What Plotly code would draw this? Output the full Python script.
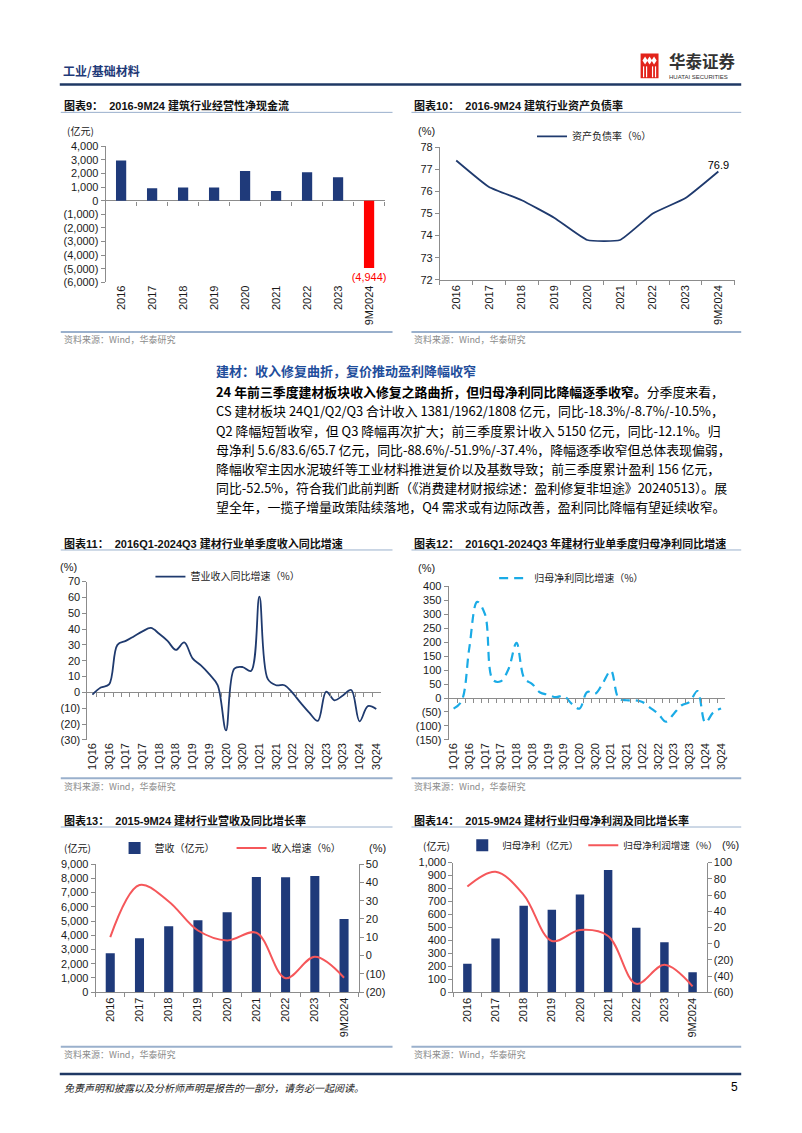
import plotly.graph_objects as go

W, H = 802, 1133
FONT = "Liberation Sans, Arial, Noto Sans CJK SC, sans-serif"
CJK = "Noto Sans CJK SC, Liberation Sans, sans-serif"
NAVY = "#1F3A7A"
LINE_NAVY = "#1F3A6E"
RED_BAR = "#FF0000"
RED_LINE = "#F5575A"
DASH_BLUE = "#1AABE6"
AXIS = "#8C8C8C"
RULE = "#9AB0CC"

# ---------------- data ----------------
years = ["2016", "2017", "2018", "2019", "2020", "2021", "2022", "2023", "9M2024"]

# Chart 9: operating net cash flow (亿元)
c9_values = [2950, 920, 970, 970, 2180, 705, 2085, 1720, -4944]
c9_ytickvals = [4000, 3000, 2000, 1000, 0, -1000, -2000, -3000, -4000, -5000, -6000]
c9_yticktext = ["4,000", "3,000", "2,000", "1,000", "0", "(1,000)", "(2,000)", "(3,000)",
                "(4,000)", "(5,000)", "(6,000)"]

# Chart 10: asset-liability ratio (%)
c10_values = [77.4, 76.2, 75.6, 74.8, 73.8, 73.8, 75.0, 75.7, 76.9]

# Chart 11 / 12: quarterly YoY
quarters = ["1Q16", "2Q16", "3Q16", "4Q16", "1Q17", "2Q17", "3Q17", "4Q17",
            "1Q18", "2Q18", "3Q18", "4Q18", "1Q19", "2Q19", "3Q19", "4Q19",
            "1Q20", "2Q20", "3Q20", "4Q20", "1Q21", "2Q21", "3Q21", "4Q21",
            "1Q22", "2Q22", "3Q22", "4Q22", "1Q23", "2Q23", "3Q23", "4Q23",
            "1Q24", "2Q24", "3Q24"]
c11_values = [-1.5, 3.0, 5.0, 30.0, 32.5, 35.5, 38.5, 40.7,
              37.0, 32.5, 26.8, 31.5, 21.5, 17.0, 11.5, 4.5,
              -24.0, 15.0, 16.0, 13.5, 60.5, 8.5, 4.5, 4.5,
              -0.5, -7.0, -13.0, -18.0, 0.5, -5.0, -2.0, 1.5,
              -18.3, -8.7, -10.5]
c11_ytickvals = [70, 60, 50, 40, 30, 20, 10, 0, -10, -20, -30]
c11_yticktext = ["70", "60", "50", "40", "30", "20", "10", "0", "(10)", "(20)", "(30)"]

c12_values = [-38, -12, 180, 345, 300, 65, 60, 105,
              198, 70, 50, 20, 12, 3, 8, -20,
              -38, 22, 15, 55, 98, -2, -8, -8,
              -14, -35, -56, -85, -56, -26, -14, 25,
              -88.6, -51.9, -37.4]
c12_ytickvals = [400, 350, 300, 250, 200, 150, 100, 50, 0, -50, -100, -150]
c12_yticktext = ["400", "350", "300", "250", "200", "150", "100", "50", "0", "(50)", "(100)", "(150)"]

# Chart 13: revenue (亿元) and growth (%)
c13_revenue = [2740, 3780, 4640, 5060, 5610, 8100, 8070, 8170, 5150]
c13_growth = [10.1, 38.6, 29.6, 13.7, 8.3, 12.5, -12.4, -0.7, -12.1]
c13_rtickvals = [50, 40, 30, 20, 10, 0, -10, -20]
c13_rticktext = ["50", "40", "30", "20", "10", "0", "(10)", "(20)"]

# Chart 14: net profit (亿元) and growth (%)
c14_profit = [221, 416, 667, 637, 754, 942, 497, 386, 156]
c14_growth = [70.4, 88.6, 60.2, 3.4, 16.8, 9.5, -49.4, -25.9, -52.5]
c14_rtickvals = [100, 80, 60, 40, 20, 0, -20, -40, -60]
c14_rticktext = ["100", "80", "60", "40", "20", "0", "(20)", "(40)", "(60)"]

paragraph = [
    "<b>24 年前三季度建材板块收入修复之路曲折，但归母净利同比降幅逐季收窄。</b>分季度来看，",
    "CS 建材板块 24Q1/Q2/Q3 合计收入 1381/1962/1808 亿元，同比-18.3%/-8.7%/-10.5%，",
    "Q2 降幅短暂收窄，但 Q3 降幅再次扩大；前三季度累计收入 5150 亿元，同比-12.1%。归",
    "母净利 5.6/83.6/65.7 亿元，同比-88.6%/-51.9%/-37.4%，降幅逐季收窄但总体表现偏弱，",
    "降幅收窄主因水泥玻纤等工业材料推进复价以及基数导致；前三季度累计盈利 156 亿元，",
    "同比-52.5%，符合我们此前判断（《消费建材财报综述：盈利修复非坦途》20240513）。展",
    "望全年，一揽子增量政策陆续落地，Q4 需求或有边际改善，盈利同比降幅有望延续收窄。",
]


def X(p):
    return p / W


def Y(p):
    return 1 - p / H


fig = go.Figure()

# ---------------- traces ----------------
# Chart 9
fig.add_trace(go.Bar(
    x=years, y=c9_values, xaxis="x", yaxis="y", width=0.33,
    marker=dict(color=[RED_BAR if v < 0 else NAVY for v in c9_values], line=dict(width=0)),
    text=[f"({abs(v):,})" if v < 0 else "" for v in c9_values],
    textposition="outside", cliponaxis=False, constraintext="none",
    textfont=dict(color=RED_BAR, size=11, family=FONT), showlegend=False))
fig.add_trace(go.Scatter(x=years, y=c9_values, xaxis="x7", yaxis="y", mode="markers",
                         marker=dict(opacity=0), showlegend=False, hoverinfo="skip"))

# Chart 10
fig.add_trace(go.Scatter(
    x=years, y=c10_values, xaxis="x2", yaxis="y2", mode="lines+text",
    line=dict(color=LINE_NAVY, width=1.8, shape="spline", smoothing=0.4),
    text=[""] * (len(c10_values) - 1) + [f"{c10_values[-1]}"],
    textposition="top center", textfont=dict(size=11, family=FONT, color="#000"),
    cliponaxis=False, name="资产负债率（%）", legend="legend"))

# Chart 11
idx = list(range(len(quarters)))
fig.add_trace(go.Scatter(
    x=idx, y=c11_values, xaxis="x3", yaxis="y3", mode="lines",
    line=dict(color=LINE_NAVY, width=1.8, shape="spline", smoothing=1.0),
    name="营业收入同比增速（%）", legend="legend2"))
fig.add_trace(go.Scatter(x=idx, y=c11_values, xaxis="x8", yaxis="y3", mode="markers",
                         marker=dict(opacity=0), showlegend=False, hoverinfo="skip"))

# Chart 12
fig.add_trace(go.Scatter(
    x=idx, y=c12_values, xaxis="x4", yaxis="y4", mode="lines",
    line=dict(color=DASH_BLUE, width=2.2, dash="9px,6px", shape="spline", smoothing=1.0),
    name="归母净利同比增速（%）", legend="legend3"))
fig.add_trace(go.Scatter(x=idx, y=c12_values, xaxis="x9", yaxis="y4", mode="markers",
                         marker=dict(opacity=0), showlegend=False, hoverinfo="skip"))

# Chart 13
fig.add_trace(go.Bar(x=years, y=c13_revenue, xaxis="x5", yaxis="y5", width=0.31,
                     marker=dict(color=NAVY, line=dict(width=0)),
                     name="营收（亿元）", legend="legend4"))
fig.add_trace(go.Scatter(x=years, y=c13_growth, xaxis="x5", yaxis="y6", mode="lines",
                         line=dict(color=RED_LINE, width=2, shape="spline", smoothing=1.0),
                         name="收入增速（%）", legend="legend4"))

# Chart 14
fig.add_trace(go.Bar(x=years, y=c14_profit, xaxis="x6", yaxis="y7", width=0.3,
                     marker=dict(color=NAVY, line=dict(width=0)),
                     name="归母净利（亿元）", legend="legend5"))
fig.add_trace(go.Scatter(x=years, y=c14_growth, xaxis="x6", yaxis="y8", mode="lines",
                         line=dict(color=RED_LINE, width=2, shape="spline", smoothing=1.0),
                         name="归母净利润增速（%）", legend="legend5"))

# ---------------- axes ----------------
tickfont = dict(size=11, family=FONT, color="#1a1a1a")


def yax(domain, rng, **kw):
    d = dict(domain=domain, range=rng, showgrid=False, zeroline=False, showline=True,
             linecolor=AXIS, linewidth=1, ticks="outside", ticklen=4, tickcolor=AXIS,
             tickfont=tickfont, fixedrange=True)
    d.update(kw)
    return d


def xcat(domain, **kw):
    d = dict(domain=domain, type="category", range=[-0.5, 8.5], showgrid=False,
             zeroline=False, tickangle=-90, tickfont=tickfont, fixedrange=True)
    d.update(kw)
    return d


zero_kw = dict(zeroline=True, zerolinecolor=AXIS, zerolinewidth=1)

layout_axes = dict(
    # Chart 9
    xaxis=xcat([X(105), X(385)], anchor="y", showline=False, ticks=""),
    yaxis=yax([Y(279.3), Y(141.7)], [-6000, 4000], anchor="x",
              tickvals=c9_ytickvals, ticktext=c9_yticktext, **zero_kw),
    xaxis7=xcat([X(105), X(385)], overlaying="x", anchor="free", position=Y(196.7),
                showline=False, ticks="outside", tickson="boundaries", ticklen=4,
                tickcolor=AXIS, showticklabels=False),
    # Chart 10
    xaxis2=xcat([X(440.5), X(736.5)], anchor="y2", showline=True, linecolor=AXIS,
                ticks="outside", tickson="boundaries", ticklen=4, tickcolor=AXIS),
    yaxis2=yax([Y(276.7), Y(142.7)], [72, 78], anchor="x2", dtick=1),
    # Chart 11
    xaxis3=dict(domain=[X(86.7), X(381.7)], range=[-0.6, 34.6], anchor="y3",
                tickvals=idx[::2], ticktext=quarters[::2], tickangle=-90,
                showgrid=False, zeroline=False, showline=False, ticks="",
                tickfont=tickfont, fixedrange=True),
    yaxis3=yax([Y(741.7), Y(581.7)], [-30, 70], anchor="x3",
               tickvals=c11_ytickvals, ticktext=c11_yticktext, **zero_kw),
    xaxis8=dict(domain=[X(86.7), X(381.7)], range=[-0.6, 34.6], overlaying="x3",
                anchor="free", position=Y(693.5), showgrid=False, zeroline=False,
                showline=False, ticks="outside", ticklen=4, tickcolor=AXIS,
                tickvals=[i - 0.5 for i in range(1, len(quarters))], showticklabels=False),
    # Chart 12
    xaxis4=dict(domain=[X(449.3), X(726.7)], range=[-0.63, 34.5], anchor="y4",
                tickvals=idx[::2], ticktext=quarters[::2], tickangle=-90,
                showgrid=False, zeroline=False, showline=False, ticks="",
                tickfont=tickfont, fixedrange=True),
    yaxis4=yax([Y(741.7), Y(586.7)], [-150, 400], anchor="x4",
               tickvals=c12_ytickvals, ticktext=c12_yticktext, **zero_kw),
    xaxis9=dict(domain=[X(449.3), X(726.7)], range=[-0.63, 34.5], overlaying="x4",
                anchor="free", position=Y(699.4), showgrid=False, zeroline=False,
                showline=False, ticks="outside", ticklen=4, tickcolor=AXIS,
                tickvals=[i - 0.5 for i in range(1, len(quarters))], showticklabels=False),
    # Chart 13
    xaxis5=xcat([X(95), X(359)], anchor="y5", showline=True, linecolor=AXIS,
                ticks="outside", tickson="boundaries", ticklen=4, tickcolor=AXIS),
    yaxis5=yax([Y(996.7), Y(867.3)], [0, 9000], anchor="x5", dtick=1000, tickformat=",d"),
    yaxis6=yax([Y(996.7), Y(867.3)], [-20, 50], anchor="x5", overlaying="y5", side="right",
               tickvals=c13_rtickvals, ticktext=c13_rticktext),
    # Chart 14
    xaxis6=xcat([X(454), X(708.3)], anchor="y7", showline=True, linecolor=AXIS,
                ticks="outside", tickson="boundaries", ticklen=4, tickcolor=AXIS),
    yaxis7=yax([Y(997), Y(865.7)], [0, 1000], anchor="x6", dtick=100, tickformat=",d"),
    yaxis8=yax([Y(997), Y(865.7)], [-60, 100], anchor="x6", overlaying="y7", side="right",
               tickvals=c14_rtickvals, ticktext=c14_rticktext),
)

# ---------------- legends ----------------
legfont = dict(size=10, family=CJK, color="#222")


def leg(x, y, **kw):
    d = dict(x=X(x), y=Y(y), xanchor="left", yanchor="middle", orientation="h",
             bgcolor="rgba(0,0,0,0)", font=legfont, itemwidth=30, tracegroupgap=0)
    d.update(kw)
    return d


legends = dict(
    legend=leg(533, 131.7),
    legend2=leg(150, 576.7),
    legend3=leg(495, 578.3),
    legend4=leg(114, 851, entrywidth=72),
    legend5=leg(463, 848.3, font=dict(size=9.5, family=CJK, color="#222")),
)

# ---------------- shapes & texts ----------------
shapes = []
ann = []


def hline(x0, x1, y, color, width):
    shapes.append(dict(type="line", xref="paper", yref="paper", x0=X(x0), x1=X(x1),
                       y0=Y(y), y1=Y(y), line=dict(color=color, width=width)))


def text(x, y, s, size=11, color="#000", family=FONT, xanchor="left"):
    ann.append(dict(x=X(x), y=Y(y), xref="paper", yref="paper", text=s, showarrow=False,
                    xanchor=xanchor, yanchor="middle",
                    font=dict(size=size, color=color, family=family)))


# header
hline(59, 743, 79.3, "#1F3864", 2.5)
text(60, 65, "<b>工业/基础材料</b>", 12, "#1F3A78", CJK)
shapes.append(dict(type="rect", xref="paper", yref="paper", x0=X(642), x1=X(660),
                   y0=Y(73), y1=Y(48), fillcolor="#E2231A", line=dict(width=0)))
for cx in (646.5, 651, 655.5):
    shapes.append(dict(type="path", xref="paper", yref="paper",
                       path=f"M {X(cx)} {Y(51)} L {X(cx + 2.6)} {Y(55)} L {X(cx)} {Y(59)} L {X(cx - 2.6)} {Y(55)} Z",
                       fillcolor="white", line=dict(width=0)))
for bx in (645, 648, 654, 657):
    shapes.append(dict(type="rect", xref="paper", yref="paper", x0=X(bx - 0.6), x1=X(bx + 0.6),
                       y0=Y(72), y1=Y(61), fillcolor="white", line=dict(width=0)))
text(668, 55.5, "<b>华泰证券</b>", 16.5, "#333333", CJK)
text(669, 71.5, "HUATAI SECURITIES", 6, "#333333", FONT)

# footer
hline(59, 743, 1079.5, "#1F3864", 2.5)
text(61, 1093, "<i>免责声明和披露以及分析师声明是报告的一部分，请务必一起阅读。</i>", 10, "#222", CJK)
text(742, 1093, "5", 12, "#000", FONT, xanchor="right")

# chart titles, underlines, source lines
titles = [
    (61, 101, 60, 393, 329.5, 337.5, "图表9：  2016-9M24 建筑行业经营性净现金流"),
    (413, 101, 412, 743, 329.5, 337.5, "图表10：  2016-9M24 建筑行业资产负债率"),
    (61, 543.3, 60, 393, 780.5, 788.5, "图表11：  2016Q1-2024Q3 建材行业单季度收入同比增速"),
    (413, 543.3, 412, 743, 780.5, 788.5, "图表12：  2016Q1-2024Q3 年建材行业单季度归母净利同比增速"),
    (61, 823.3, 60, 393, 1052, 1060, "图表13：  2015-9M24 建材行业营收及同比增长率"),
    (413, 823.3, 412, 743, 1052, 1060, "图表14：  2015-9M24 建材行业归母净利润及同比增长率"),
]
for tx, ty, lx0, lx1, sy, sty, s in titles:
    text(tx, ty, f"<b>{s}</b>", 11, "#111", FONT)
    hline(lx0, lx1, ty + 6.5, RULE, 1)
    hline(lx0, lx1, sy, RULE, 2)
    text(tx, sty, "资料来源：Wind，华泰研究", 9, "#8a8a8a", CJK)

# unit labels
text(80, 125.7, "(亿元)", 10, "#222", CJK, "center")
text(426.7, 126.7, "(%)", 11, "#222", FONT, "center")
text(68, 566.7, "(%)", 11, "#222", FONT, "center")
text(426.7, 568.3, "(%)", 11, "#222", FONT, "center")
text(76.7, 851, "(亿元)", 10, "#222", CJK, "center")
text(378, 851, "(%)", 11, "#222", FONT, "center")
text(436.7, 848, "(亿元)", 10, "#222", CJK, "center")
text(732, 848, "(%)", 11, "#222", FONT, "center")

# section heading + paragraph
text(214, 368, "<b>建材：收入修复曲折，复价推动盈利降幅收窄</b>", 13, "#1F4E9C", CJK)
for i, line in enumerate(paragraph):
    text(214, 390 + i * 19.3, line, 12.9, "#000", CJK)

fig.update_layout(
    width=W, height=H, autosize=False,
    margin=dict(l=0, r=0, t=0, b=0, pad=0),
    paper_bgcolor="white", plot_bgcolor="white",
    font=dict(family=FONT, size=11, color="#111"),
    barmode="overlay",
    shapes=shapes, annotations=ann,
    **layout_axes, **legends,
)

fig.write_html("out.html", config={"staticPlot": True},
               post_script="document.body.style.margin='0';document.body.style.overflow='hidden';")
